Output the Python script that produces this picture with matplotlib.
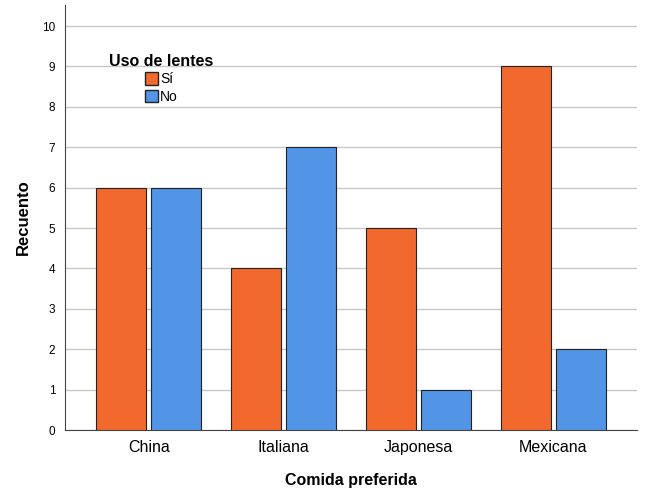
import numpy as np
import matplotlib.pyplot as plt
from matplotlib.patches import Patch

plt.rcParams['font.family'] = ['Liberation Sans', 'DejaVu Sans']

# data
comidas = ["China", "Italiana", "Japonesa", "Mexicana"]
si = [6, 4, 5, 9]
no = [6, 7, 1, 2]

col_si = "#F2692E"
col_no = "#5295E6"

fig = plt.figure(figsize=(6.66, 5.01), dpi=100)
ax = fig.add_axes([0.0976, 0.1417, 0.8589, 0.8483])

x = np.arange(len(comidas))
w = 0.37
ax.bar(x - w/2 - 0.02, si, width=w, color=col_si, edgecolor="#222222", linewidth=0.8, zorder=3)
ax.bar(x + w/2 + 0.02, no, width=w, color=col_no, edgecolor="#222222", linewidth=0.8, zorder=3)

ax.set_xlim(-0.62, 3.62)
ax.set_ylim(0, 10.52)
ax.set_yticks(range(0, 11))
ax.yaxis.grid(True, color="#c8c8c8", linewidth=1, zorder=0)
ax.set_xticks(x)
ax.set_xticklabels(comidas, fontsize=11.5)
ax.tick_params(axis="y", labelsize=8.5, length=0, pad=7)
ax.tick_params(axis="x", length=0, pad=7)

for s in ["top", "right"]:
    ax.spines[s].set_visible(False)
ax.spines["left"].set_color("#444444")
ax.spines["bottom"].set_color("#444444")

ax.set_xlabel("Comida preferida", fontsize=11.5, fontweight="bold", labelpad=13)
ax.set_ylabel("Recuento", fontsize=12, fontweight="bold", labelpad=8)

handles = [Patch(facecolor=col_si, edgecolor="#222222", label="Sí"),
           Patch(facecolor=col_no, edgecolor="#222222", label="No")]
leg = ax.legend(handles=handles, title="Uso de lentes", loc="upper left",
                bbox_to_anchor=(0.055, 0.915), frameon=False, fontsize=10,
                handlelength=0.95, handleheight=1.0, handletextpad=0.15,
                labelspacing=0.25, title_fontproperties={"weight": "bold", "size": 11.5})

fig.savefig("out.png")
